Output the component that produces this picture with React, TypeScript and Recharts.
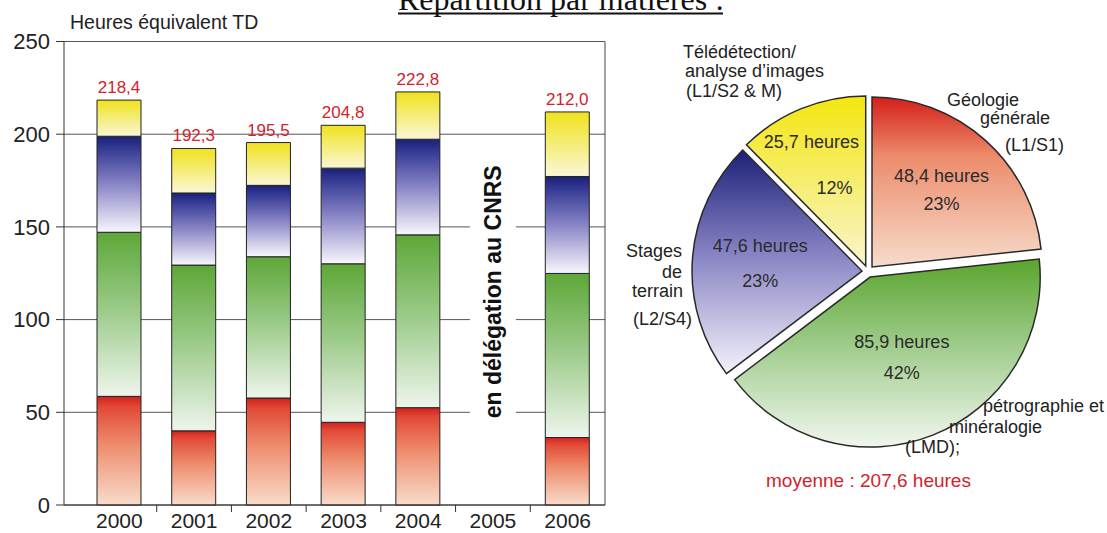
import {
  BarChart,
  Bar,
  XAxis,
  YAxis,
  CartesianGrid,
  LabelList,
  ReferenceArea,
  PieChart,
  Pie,
  Cell,
  Sector,
} from "recharts";

const years = ["2000", "2001", "2002", "2003", "2004", "2005", "2006"];
const geologie = [58.6, 40.0, 57.7, 44.6, 52.5, null, 36.4];
const petrographie = [88.5, 89.4, 76.2, 85.5, 93.2, null, 88.5];
const stages = [51.8, 38.9, 38.5, 51.6, 51.6, null, 52.3];
const teledetection = [19.5, 24.0, 23.1, 23.1, 25.5, null, 34.8];
const totals = [218.4, 192.3, 195.5, 204.8, 222.8, null, 212.0];
const yTicks = [0, 50, 100, 150, 200, 250];

const matieres = [
  "Géologie générale",
  "Pétrographie et minéralogie",
  "Stages de terrain",
  "Télédétection",
];
const moyennes = [48.4, 85.9, 47.6, 25.7];
const pourcentages = ["23%", "42%", "23%", "12%"];

const barData = years.map((year, i) => ({
  year,
  geologie: geologie[i],
  petrographie: petrographie[i],
  stages: stages[i],
  teledetection: teledetection[i],
  total: totals[i],
}));

const pieData = matieres.map((name, i) => ({ name, value: moyennes[i] }));
const pieFills = ["url(#pieRed)", "url(#pieGreen)", "url(#pieBlue)", "url(#pieYellow)"];

const RADIAN = Math.PI / 180;
const fmt = (v: number) => v.toFixed(1).replace(".", ",");

// where the two inner lines of each slice sit
const labelPlacement = [
  { r: 110, gap: 28, dx1: 0, dx2: 0 },
  { r: 92, gap: 31, dx1: 0, dx2: 0 },
  { r: 108, gap: 35, dx1: 0, dx2: 0 },
  { r: 115, gap: 46, dx1: -13, dx2: 10 },
];

const YearTick = (props: any) => {
  const { x, y, payload, index } = props;
  const half = payload.offset ?? 37.35;
  return (
    <g>
      {index > 0 && (
        <line x1={x - half} x2={x - half} y1={y - 7} y2={y} stroke="#333" />
      )}
      <text x={x} y={y + 16} textAnchor="middle" fontSize={21} fill="#222">
        {payload.value}
      </text>
    </g>
  );
};

const TotalLabel = (props: any) => {
  const { x, y, width, value } = props;
  if (value == null) return null;
  return (
    <text x={x + width / 2} y={y - 7} textAnchor="middle" fontSize={17} fill="#d2232a">
      {fmt(value)}
    </text>
  );
};

const DelegationArea = (props: any) => {
  const { x, y, width, height } = props;
  const cx = x + width / 2;
  const cy = y + height / 2;
  return (
    <g>
      <rect x={cx - 23} y={y} width={46} height={height} fill="#fff" />
      <text
        x={cx}
        y={cy}
        transform={`rotate(-90, ${cx}, ${cy})`}
        textAnchor="middle"
        dominantBaseline="central"
        fontSize={23}
        fontWeight="bold"
        fill="#111"
      >
        en délégation au CNRS
      </text>
    </g>
  );
};

const ExplodedSlice = (props: any) => {
  const { cx, cy, midAngle } = props;
  const d = 6;
  return (
    <Sector
      {...props}
      cx={cx + d * Math.cos(-midAngle * RADIAN)}
      cy={cy + d * Math.sin(-midAngle * RADIAN)}
    />
  );
};

const SliceLabel = (props: any) => {
  const { cx, cy, midAngle, index } = props;
  const { r, gap, dx1, dx2 } = labelPlacement[index];
  const x = cx + r * Math.cos(-midAngle * RADIAN);
  const y = cy + r * Math.sin(-midAngle * RADIAN);
  return (
    <g>
      <text x={x + dx1} y={y - gap / 2 + 6} textAnchor="middle" fontSize={18} fill="#2b2b2b">
        {fmt(moyennes[index])} heures
      </text>
      <text x={x + dx2} y={y + gap / 2 + 6} textAnchor="middle" fontSize={18} fill="#2b2b2b">
        {pourcentages[index]}
      </text>
    </g>
  );
};

const outerLabels = [
  { text: "Télédétection/", x: 683, y: 58, anchor: "start" },
  { text: "analyse d’images", x: 685, y: 77, anchor: "start" },
  { text: "(L1/S2 & M)", x: 686, y: 97, anchor: "start" },
  { text: "Géologie", x: 947, y: 106, anchor: "start" },
  { text: "générale", x: 980, y: 124, anchor: "start" },
  { text: "(L1/S1)", x: 1005, y: 151, anchor: "start" },
  { text: "Stages", x: 682, y: 257, anchor: "end" },
  { text: "de", x: 682, y: 278, anchor: "end" },
  { text: "terrain", x: 683, y: 297, anchor: "end" },
  { text: "(L2/S4)", x: 692, y: 325, anchor: "end" },
  { text: "pétrographie et", x: 983, y: 412, anchor: "start" },
  { text: "minéralogie", x: 949, y: 433, anchor: "start" },
  { text: "(LMD);", x: 905, y: 453, anchor: "start" },
];

function Grad({ id, stops }: { id: string; stops: [number, string][] }) {
  return (
    <linearGradient id={id} x1="0" y1="0" x2="0" y2="1">
      {stops.map(([o, c]) => (
        <stop key={o} offset={o} stopColor={c} />
      ))}
    </linearGradient>
  );
}

export default function App() {
  const font = '"Liberation Sans", Arial, sans-serif';
  return (
    <div
      style={{
        position: "relative",
        width: 1107,
        height: 533,
        overflow: "hidden",
        background: "#fff",
        fontFamily: font,
      }}
    >
      <style>{"body{margin:0}"}</style>

      <div style={{ position: "absolute", left: 0, top: 0 }}>
        <BarChart
          width={620}
          height={533}
          data={barData}
          margin={{ top: 41.5, right: 14, bottom: 0, left: 0 }}
          style={{ fontFamily: font }}
        >
          <defs>
            <Grad id="barRed" stops={[[0, "#d21f1f"], [0.1, "#e24a36"], [0.45, "#ee8d6e"], [1, "#f8dccb"]]} />
            <Grad id="barGreen" stops={[[0, "#5ea738"], [0.45, "#98c985"], [1, "#eef5ec"]]} />
            <Grad id="barBlue" stops={[[0, "#1b2172"], [0.1, "#2e3490"], [0.5, "#8985c6"], [1, "#f8f7fd"]]} />
            <Grad id="barYellow" stops={[[0, "#f0e21c"], [1, "#faf7d6"]]} />
          </defs>
          <CartesianGrid yAxisId="left" vertical={false} stroke="#555" />
          <XAxis
            dataKey="year"
            height={28}
            padding={{ left: 18, right: 0 }}
            axisLine={{ stroke: "#333" }}
            tickLine={false}
            tickSize={7}
            tickMargin={0}
            interval={0}
            tick={<YearTick />}
          />
          <YAxis
            yAxisId="left"
            width={64}
            domain={[0, 250]}
            ticks={yTicks}
            tickSize={8}
            tickMargin={6}
            axisLine={{ stroke: "#333" }}
            tickLine={{ stroke: "#333" }}
            tick={{ fontSize: 22, fill: "#222" }}
          />
          <YAxis
            yAxisId="right"
            orientation="right"
            width={1}
            domain={[0, 250]}
            ticks={yTicks}
            tick={false}
            tickLine={false}
            axisLine={{ stroke: "#444" }}
          />
          <ReferenceArea
            yAxisId="left"
            x1="2005"
            x2="2005"
            y1={42}
            y2={188}
            shape={<DelegationArea />}
          />
          <Bar yAxisId="left" dataKey="geologie" stackId="a" barSize={44} fill="url(#barRed)" stroke="#222" isAnimationActive={false} />
          <Bar yAxisId="left" dataKey="petrographie" stackId="a" barSize={44} fill="url(#barGreen)" stroke="#222" isAnimationActive={false} />
          <Bar yAxisId="left" dataKey="stages" stackId="a" barSize={44} fill="url(#barBlue)" stroke="#222" isAnimationActive={false} />
          <Bar yAxisId="left" dataKey="teledetection" stackId="a" barSize={44} fill="url(#barYellow)" stroke="#222" isAnimationActive={false}>
            <LabelList dataKey="total" content={<TotalLabel />} />
          </Bar>
        </BarChart>
      </div>

      <div style={{ position: "absolute", left: 600, top: 0 }}>
        <PieChart width={507} height={533} style={{ fontFamily: font }}>
          <defs>
            <Grad id="pieRed" stops={[[0, "#d41f1a"], [0.35, "#ec8c6c"], [1, "#f6dccb"]]} />
            <Grad id="pieGreen" stops={[[0, "#5aa52d"], [0.5, "#a5cf93"], [1, "#f0f7ee"]]} />
            <Grad id="pieBlue" stops={[[0, "#1c2177"], [0.45, "#8480c2"], [1, "#f4f2fb"]]} />
            <Grad id="pieYellow" stops={[[0, "#f3e60f"], [1, "#f9f5cd"]]} />
          </defs>
          <Pie
            data={pieData}
            dataKey="value"
            cx={263}
            cy={266.5}
            outerRadius={170}
            startAngle={90}
            endAngle={-270}
            stroke="#2a2a2a"
            strokeWidth={1.5}
            label={SliceLabel}
            labelLine={false}
            shape={ExplodedSlice}
            isAnimationActive={false}
          >
            {pieData.map((d, i) => (
              <Cell key={d.name} fill={pieFills[i]} />
            ))}
          </Pie>
        </PieChart>
      </div>

      <svg
        width={1107}
        height={533}
        style={{ position: "absolute", left: 0, top: 0, pointerEvents: "none", fontFamily: font }}
      >
        <text x={398} y={10} fontSize={32} fontFamily='"Liberation Serif", "Times New Roman", serif' fill="#111">
          Répartition par matières :
        </text>
        <line x1={398} x2={723} y1={13.5} y2={13.5} stroke="#111" strokeWidth={2} />
        <text x={70} y={29} fontSize={19.5} fill="#222">
          Heures équivalent TD
        </text>
        {outerLabels.map((l) => (
          <text key={l.text} x={l.x} y={l.y} fontSize={18} fill="#222" textAnchor={l.anchor as any}>
            {l.text}
          </text>
        ))}
        <text x={766} y={487} fontSize={19} fill="#d2232a">
          moyenne : 207,6 heures
        </text>
      </svg>
    </div>
  );
}
